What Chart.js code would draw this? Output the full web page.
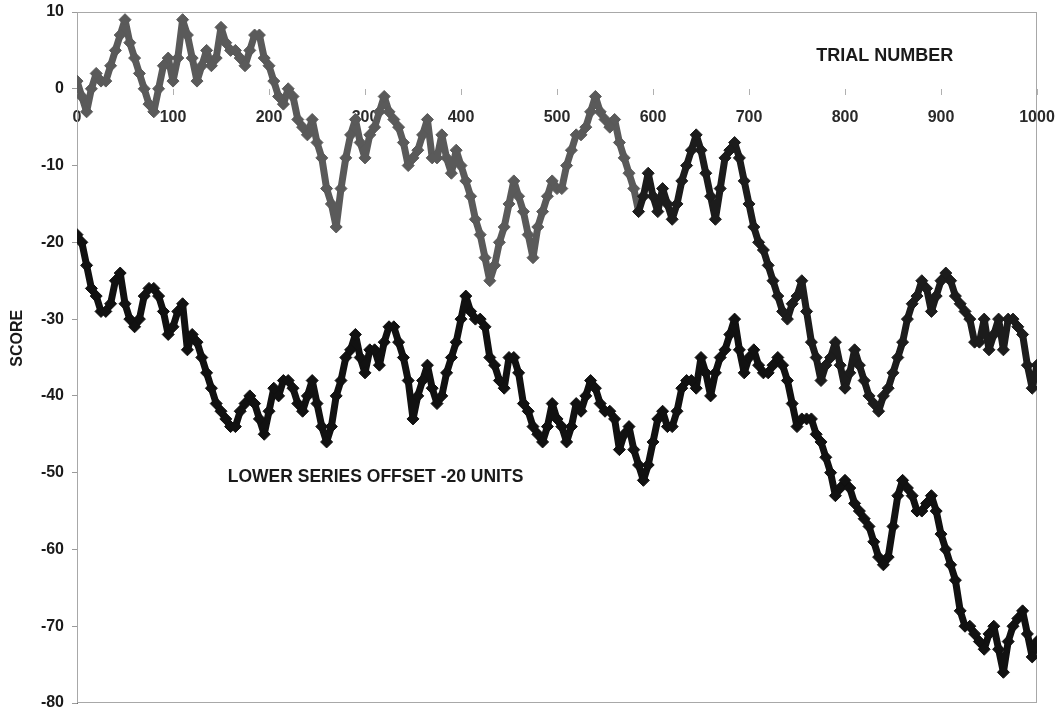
<!DOCTYPE html>
<html>
<head>
<meta charset="utf-8">
<title>Score vs trial number</title>
<script src="https://cdn.jsdelivr.net/npm/chart.js@4.4.1/dist/chart.umd.min.js"></script>
<style>
  html, body { margin: 0; padding: 0; background: #fff; }
  #wrap { width: 1062px; height: 715px; position: relative; }
</style>
</head>
<body>
<div id="wrap"><canvas id="chart"></canvas></div>
<script>
// --- Data (one value every 5 trials) ---
const TRIAL_STEP = 5;

const upperScores = [
    1, -1, -3, 0, 2, 1, 1, 3, 5, 7,
    9, 6, 4, 2, 0, -2, -3, 0, 3, 4,
    1, 4, 9, 7, 4, 1, 3, 5, 3, 4,
    8, 6, 5, 5, 4, 3, 5, 7, 7, 4,
    3, 1, -1, -2, 0, -1, -4, -5, -6, -4,
    -7, -9, -13, -15, -18, -13, -9, -6, -4, -7,
    -9, -6, -5, -3, -1, -3, -4, -5, -7, -10,
    -9, -8, -6, -4, -9, -9, -6, -9, -11, -8,
    -10, -12, -14, -17, -19, -22, -25, -23, -20, -18,
    -15, -12, -14, -16, -19, -22, -18, -16, -14, -12,
    -13, -13, -10, -8, -6, -6, -5, -3, -1, -3,
    -4, -5, -4, -7, -9, -11, -13, -16, -14, -11,
    -14, -16, -13, -15, -17, -15, -12, -10, -8, -6,
    -8, -11, -14, -17, -13, -9, -8, -7, -9, -12,
    -15, -18, -20, -21, -23, -25, -27, -29, -30, -28,
    -27, -25, -29, -33, -35, -38, -36, -35, -33, -36,
    -39, -37, -34, -36, -38, -40, -41, -42, -40, -39,
    -37, -35, -33, -30, -28, -27, -25, -26, -29, -27,
    -25, -24, -25, -27, -28, -29, -30, -33, -33, -30,
    -34, -32, -30, -34, -30, -30, -31, -32, -36, -39,
    -36
];

// lower series is plotted with a -20 offset
const lowerScores = [
    -19, -20, -23, -26, -27, -29, -29, -28, -25, -24,
    -28, -30, -31, -30, -27, -26, -26, -27, -29, -32,
    -31, -29, -28, -34, -32, -33, -35, -37, -39, -41,
    -42, -43, -44, -44, -42, -41, -40, -41, -43, -45,
    -42, -39, -40, -38, -38, -39, -41, -42, -40, -38,
    -41, -44, -46, -44, -40, -38, -35, -34, -32, -35,
    -37, -34, -34, -36, -33, -31, -31, -33, -35, -38,
    -43, -40, -38, -36, -39, -41, -40, -37, -35, -33,
    -30, -27, -29, -30, -30, -31, -35, -36, -38, -39,
    -35, -35, -37, -41, -42, -44, -45, -46, -44, -41,
    -43, -44, -46, -44, -41, -42, -40, -38, -39, -41,
    -42, -42, -43, -47, -45, -44, -47, -49, -51, -49,
    -46, -43, -42, -44, -44, -42, -39, -38, -38, -39,
    -35, -37, -40, -37, -35, -34, -32, -30, -34, -37,
    -35, -34, -36, -37, -37, -36, -35, -36, -38, -41,
    -44, -43, -43, -43, -45, -46, -48, -50, -53, -52,
    -51, -52, -54, -55, -56, -57, -59, -61, -62, -61,
    -57, -53, -51, -52, -53, -55, -55, -54, -53, -55,
    -58, -60, -62, -64, -68, -70, -70, -71, -72, -73,
    -71, -70, -73, -76, -72, -70, -69, -68, -71, -74,
    -72
];

const trials = upperScores.map((_, i) => i * TRIAL_STEP);

const xTicks = [0, 100, 200, 300, 400, 500, 600, 700, 800, 900, 1000];
const yTicks = [10, 0, -10, -20, -30, -40, -50, -60, -70, -80];

// Annotations, placed in data coordinates
const notes = [
    { text: 'TRIAL NUMBER', trial: 770, score: 4.3, size: 18 },
    { text: 'LOWER SERIES OFFSET -20 UNITS', trial: 157, score: -50.6, size: 17.5 },
];

const FONT = '"Liberation Sans", Arial, Helvetica, sans-serif';

// the scan prints the upper trace lighter for its first part
const UPPER_GREY = '#5a5a5a';
const UPPER_DARK = '#1c1c1c';
const UPPER_DARK_FROM = 585;

const toPoints = (ys) => ys.map((y, i) => ({ x: trials[i], y }));

const makeSeries = (label, ys, colour) => ({
    label,
    data: toPoints(ys),
    showLine: true,
    borderColor: colour,
    borderWidth: 7,
    borderJoinStyle: 'round',
    backgroundColor: colour,
    pointStyle: 'rectRot',
    pointRadius: 6,
    pointBorderWidth: 1,
    pointBorderColor: colour,
    pointBackgroundColor: colour,
    tension: 0,
});

const upperColour = (x) => (x >= UPPER_DARK_FROM ? UPPER_DARK : UPPER_GREY);

const upperSeries = makeSeries('Upper series', upperScores, UPPER_GREY);
upperSeries.segment = { borderColor: ctx => upperColour(ctx.p0.parsed.x) };
upperSeries.pointBackgroundColor = ctx => upperColour(ctx.parsed ? ctx.parsed.x : 0);
upperSeries.pointBorderColor = upperSeries.pointBackgroundColor;

const lowerSeries = makeSeries('Lower series (offset -20)', lowerScores, '#111111');

// frame round the plot, axis title and notes
const decorations = {
    id: 'decorations',
    beforeDatasetsDraw(chart) {
        const { ctx, chartArea: a } = chart;
        ctx.save();
        ctx.strokeStyle = '#a8a8a8';
        ctx.lineWidth = 1;
        ctx.strokeRect(a.left + 0.5, a.top + 0.5, a.width - 1, a.height - 1);
        ctx.restore();
    },
    afterDraw(chart) {
        const { ctx, scales } = chart;
        ctx.save();
        ctx.fillStyle = '#1a1a1a';
        ctx.textBaseline = 'middle';
        ctx.textAlign = 'left';
        notes.forEach(n => {
            ctx.font = 'bold ' + n.size + 'px ' + FONT;
            ctx.fillText(n.text, scales.x.getPixelForValue(n.trial), scales.y.getPixelForValue(n.score));
        });
        // rotated y title
        ctx.translate(18, scales.y.getPixelForValue(-32.5));
        ctx.rotate(-Math.PI / 2);
        ctx.textAlign = 'center';
        ctx.font = 'bold 16px ' + FONT;
        ctx.fillText('SCORE', 0, 0);
        ctx.restore();
    }
};

new Chart(document.getElementById('chart'), {
    type: 'scatter',
    data: { datasets: [upperSeries, lowerSeries] },
    options: {
        responsive: true,
        maintainAspectRatio: false,
        animation: false,
        layout: { padding: { top: 12, right: 25, bottom: 12, left: 0 } },
        plugins: {
            legend: { display: false },
            tooltip: { enabled: false },
        },
        scales: {
            x: {
                type: 'linear',
                position: { y: 0 },
                min: 0,
                max: 1000,
                afterFit(scale) {
                    scale.height = 0;
                    scale.paddingLeft = 0;
                    scale.paddingRight = 0;
                },
                afterBuildTicks(scale) { scale.ticks = xTicks.map(v => ({ value: v })); },
                border: { display: false },
                grid: { drawOnChartArea: false, tickLength: 6, color: '#b0b0b0' },
                ticks: {
                    autoSkip: false,
                    maxRotation: 0,
                    padding: 13,
                    color: '#2a2a2a',
                    font: { family: FONT, size: 16, weight: 'bold' },
                    callback: v => String(v),
                },
            },
            y: {
                type: 'linear',
                min: -80,
                max: 10,
                afterFit(scale) {
                    scale.width = 77;
                    scale.paddingTop = 0;
                    scale.paddingBottom = 0;
                },
                afterBuildTicks(scale) { scale.ticks = yTicks.map(v => ({ value: v })); },
                border: { display: true, color: '#6a6a6a', width: 1 },
                grid: { drawOnChartArea: false, tickLength: 5, color: '#9a9a9a' },
                ticks: {
                    padding: 8,
                    color: '#1a1a1a',
                    font: { family: FONT, size: 16, weight: 'bold' },
                    callback: v => String(v),
                },
            }
        }
    },
    plugins: [decorations]
});
</script>
</body>
</html>
